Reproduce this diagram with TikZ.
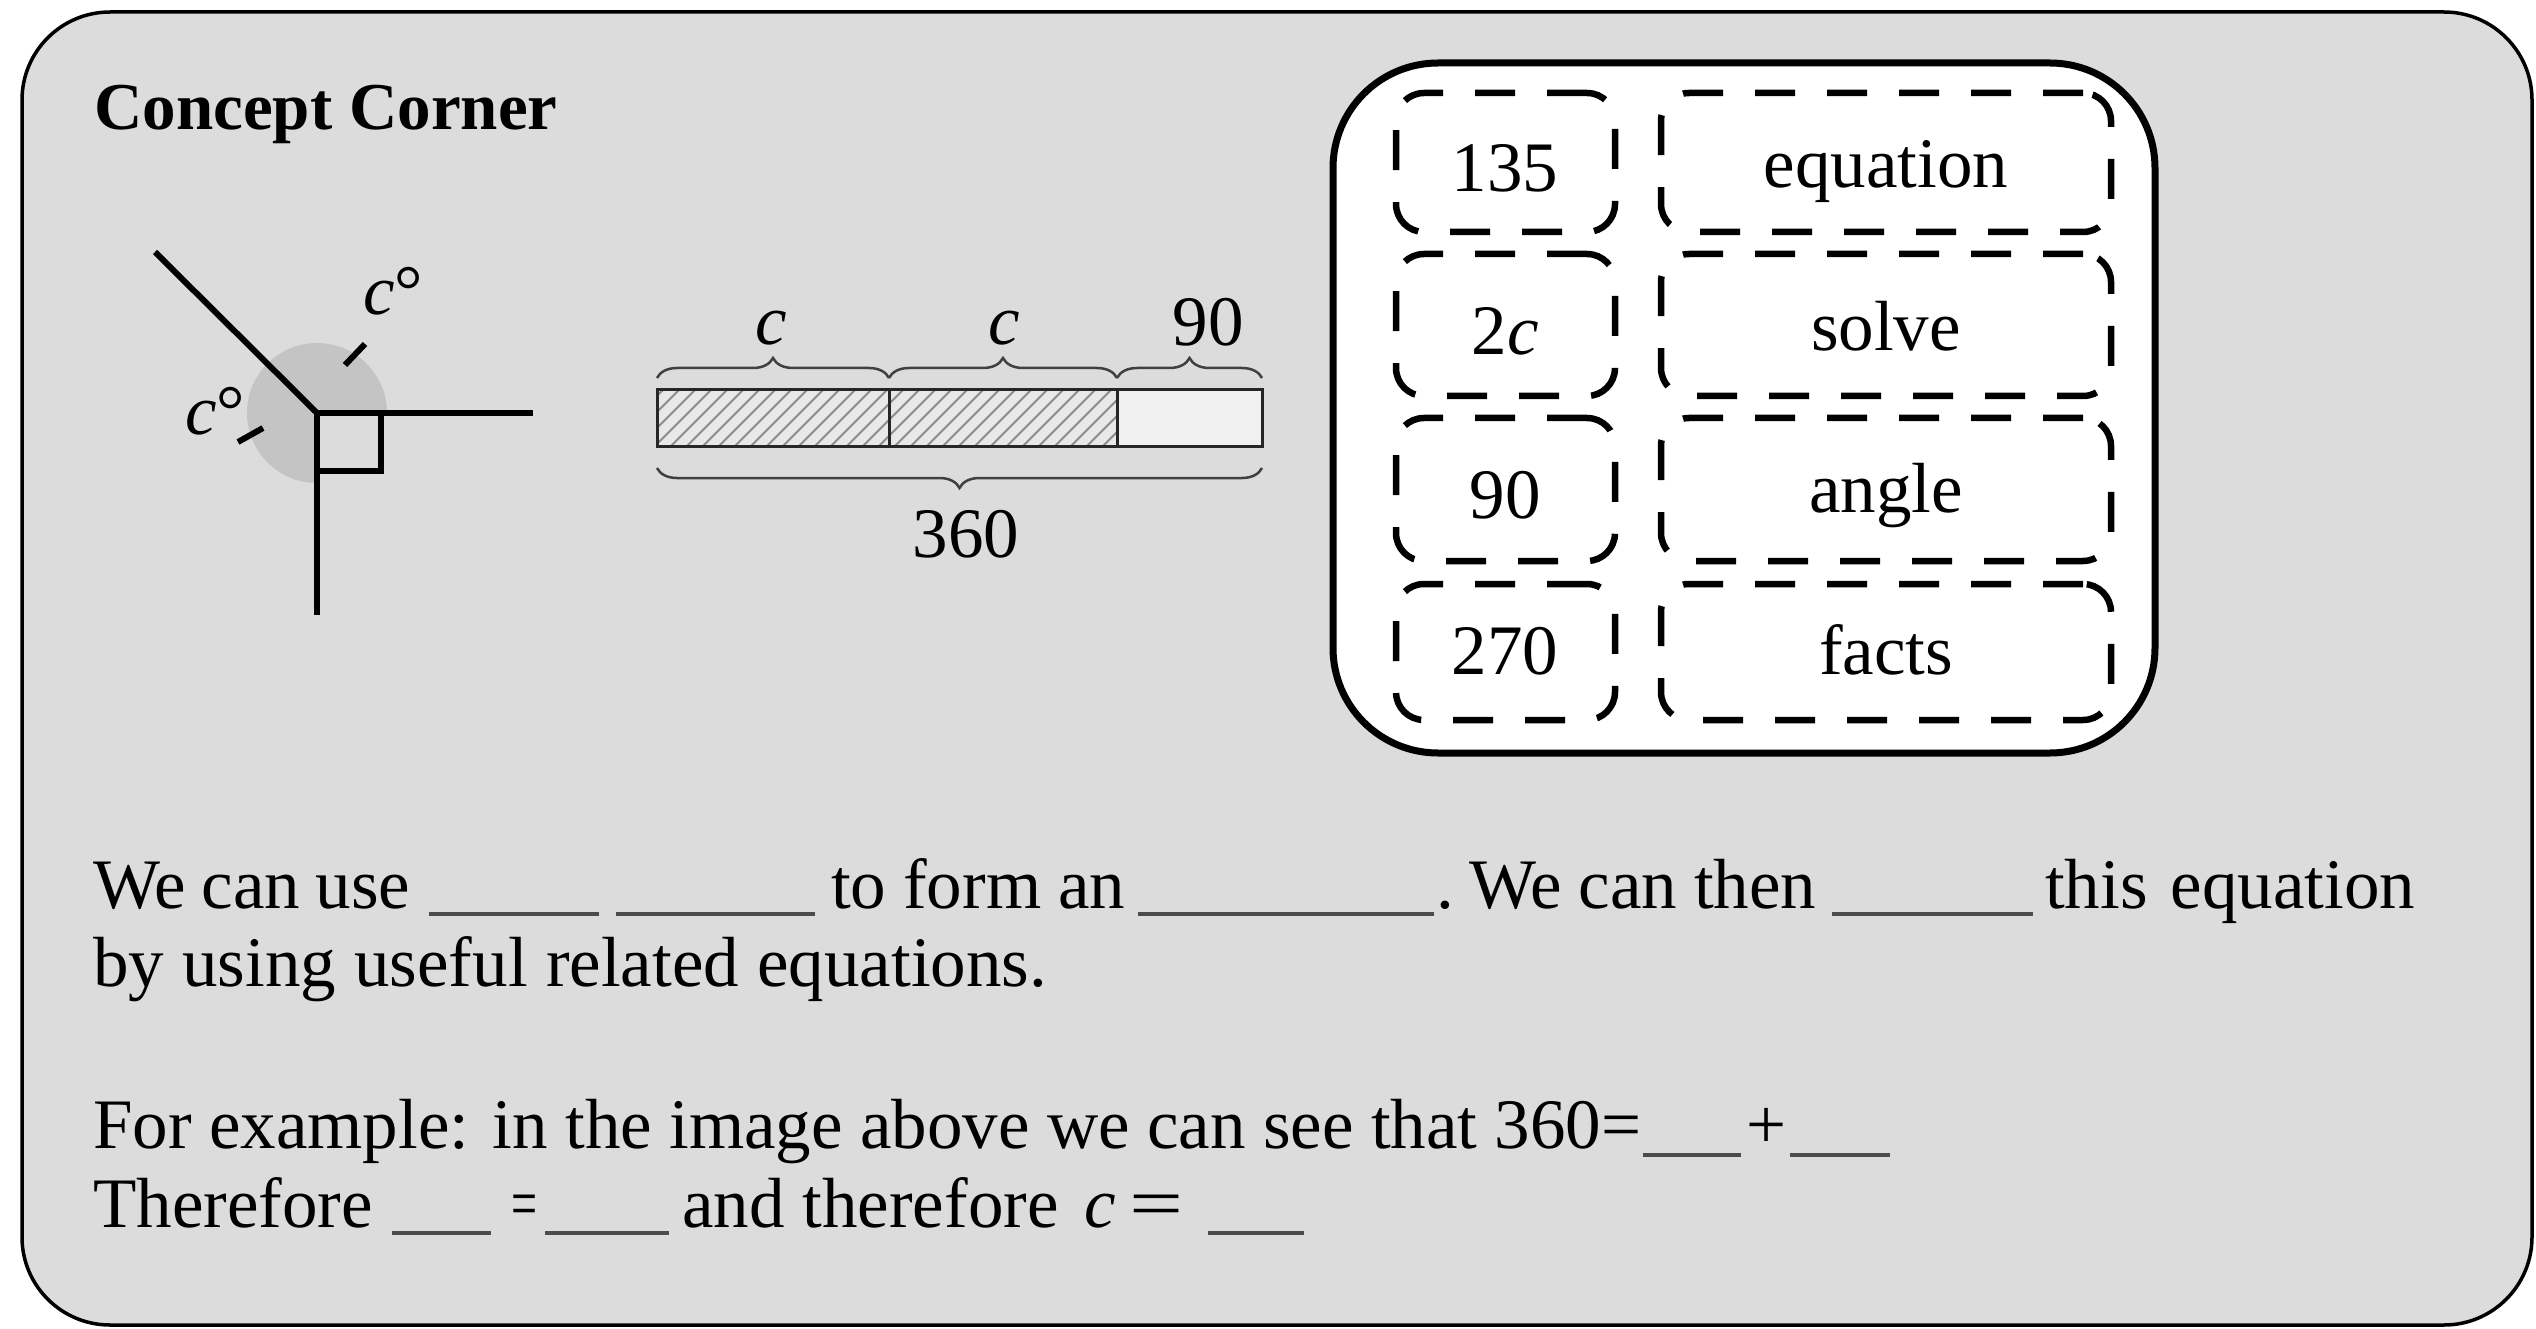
\documentclass[tikz,border=0pt]{standalone}
\usepackage{fontspec}
\setmainfont{Liberation Serif}
\usetikzlibrary{decorations.pathreplacing}
\definecolor{cardbg}{HTML}{DCDCDC}
\definecolor{sectorgray}{HTML}{C4C4C4}
\definecolor{hatchbg}{HTML}{E8E8E8}
\definecolor{hatchline}{HTML}{8C8C8C}
\definecolor{plaincell}{HTML}{F0F0F0}
\begin{document}
\begin{tikzpicture}[x=1pt,y=-1pt,
  txt/.style={anchor=base west, inner sep=0pt, font=\fontsize{71}{85}\selectfont},
  lbl/.style={inner sep=0pt, font=\fontsize{71}{85}\selectfont},
  blank/.style={line width=4pt, black!70},
  ray/.style={line width=6pt, black},
  hatch/.style={line width=1.8pt, hatchline},
  barline/.style={line width=3pt, black!85},
  bracestyle/.style={decorate, decoration={brace, amplitude=20pt}, line width=2.5pt, black!75},
  bankbox/.style={draw, line width=7pt, fill=white, rounded corners=105pt, inner sep=0pt},
  dashbox/.style={draw, line width=6.5pt, rounded corners=28pt, dash pattern=on 40pt off 32pt, inner sep=0pt}]
\useasboundingbox (0,0) rectangle (2536,1329);
% card
\draw[line width=3.5pt, fill=cardbg, rounded corners=88pt] (22,12) rectangle (2532,1325);
% title
\node[anchor=base west, inner sep=0pt, font=\fontsize{67}{80}\selectfont\bfseries] (title) at (94,130) {Concept Corner};
% angle figure
\coordinate (V) at (317,413);
\coordinate (A) at (155,252);
\coordinate (B) at (533,413);
\coordinate (D) at (317,615);
\begin{scope}
  \clip (100,200) rectangle (317,620) (317,200) rectangle (600,413);
  \fill[sectorgray] (V) circle[radius=70];
\end{scope}
\draw[ray] (V) -- (A);
\draw[ray] (V) -- (B);
\draw[ray] (V) -- (D);
\draw[line width=5.5pt] (V) rectangle (381,471);
\draw[ray] (345,365) -- (365,344);
\draw[ray] (238,442) -- (263,428);
\node[lbl, anchor=base west] (c1) at (363,315) {\textit{c}°};
\node[lbl, anchor=base west] (c2) at (185,435) {\textit{c}°};
% tape diagram
\fill[hatchbg] (657,390) rectangle (1117,447);
\fill[plaincell] (1117,390) rectangle (1262,447);
\begin{scope}
  \clip (657,390) rectangle (1117,447);
  \foreach \i in {0,...,33} \draw[hatch] (590+\i*16,447) -- ++(57,-57);
\end{scope}
\draw[barline] (657,390) rectangle (1262,447);
\draw[barline] (889,390) -- (889,447);
\draw[barline] (1117,390) -- (1117,447);
\coordinate (p0) at (657,378);
\coordinate (p1) at (889,378);
\coordinate (p2) at (1117,378);
\coordinate (p3) at (1262,378);
\draw[bracestyle] (p0) -- (p1);
\draw[bracestyle] (p1) -- (p2);
\draw[bracestyle] (p2) -- (p3);
\coordinate (q0) at (1262,468);
\coordinate (q1) at (657,468);
\draw[bracestyle] (q0) -- (q1);
\node[lbl, anchor=base] (tc1) at (771,345) {\textit{c}};
\node[lbl, anchor=base] (tc2) at (1004,345) {\textit{c}};
\node[lbl, anchor=base] (t90) at (1208,346) {90};
\node[lbl, anchor=base] (t360) at (966,557) {360};
% word bank
\node[bankbox, minimum width=822pt, minimum height=690pt] (bank) at (1744,408) {};
\node[dashbox, minimum width=219pt, minimum height=139pt] (b11) at (1505.5,162.5) {};
\node[dashbox, minimum width=219pt, minimum height=142pt] (b21) at (1505.5,325) {};
\node[dashbox, minimum width=219pt, minimum height=143pt] (b31) at (1505.5,489.5) {};
\node[dashbox, minimum width=219pt, minimum height=136pt] (b41) at (1505.5,652) {};
\node[dashbox, minimum width=450pt, minimum height=139pt] (b12) at (1886,162.5) {};
\node[dashbox, minimum width=450pt, minimum height=142pt] (b22) at (1886,325) {};
\node[dashbox, minimum width=450pt, minimum height=143pt] (b32) at (1886,489.5) {};
\node[dashbox, minimum width=450pt, minimum height=136pt] (b42) at (1886,652) {};
\node[lbl, anchor=base] (w11) at (1505,192) {135};
\node[lbl, anchor=base] (w21) at (1505,355) {2\textit{c}};
\node[lbl, anchor=base] (w31) at (1505,518) {90};
\node[lbl, anchor=base] (w41) at (1505,674) {270};
\node[lbl, anchor=base] (w12) at (1886,188) {equation};
\node[lbl, anchor=base] (w22) at (1886,351) {solve};
\node[lbl, anchor=base] (w32) at (1886,512) {angle};
\node[lbl, anchor=base] (w42) at (1886,674) {facts};
% sentence line 1
\node[txt] (l1a) at (93,908) {\makebox[317pt][s]{We can use}};
\node[txt] (l1b) at (831,908) {\makebox[294pt][s]{to form an}};
\node[txt] (l1c) at (1436,908) {.};
\node[txt] (l1d) at (1469,908) {\makebox[347pt][s]{We can then}};
\node[txt] (l1e) at (2045,908) {\makebox[370pt][s]{this equation}};
\draw[blank] (429,914) -- (599,914);
\draw[blank] (616,914) -- (815,914);
\draw[blank] (1138,914) -- (1434,914);
\draw[blank] (1832,914) -- (2033,914);
% line 2
\node[txt] (l2) at (93,986) {\makebox[954pt][s]{by using useful related equations.}};
% line 3
\node[txt] (l3) at (93,1148) {\makebox[1548pt][s]{For example: in the image above we can see that 360=}};
\node[txt, anchor=base] (l3p) at (1767,1148) {+};
\draw[blank] (1643,1155) -- (1741,1155);
\draw[blank] (1790,1155) -- (1890,1155);
% line 4
\node[txt] (l4a) at (93,1227) {Therefore};
\node[txt, anchor=base, xscale=0.65] (l4e1) at (525,1227) {=};
\node[txt] (l4b) at (682,1227) {and therefore};
\node[txt] (l4c) at (1084,1227) {\textit{c}};
\node[txt, anchor=base, xscale=1.35] (l4e2) at (1157,1227) {=};
\draw[blank] (392,1233) -- (491,1233);
\draw[blank] (545,1233) -- (669,1233);
\draw[blank] (1208,1233) -- (1304,1233);
\end{tikzpicture}
\end{document}
